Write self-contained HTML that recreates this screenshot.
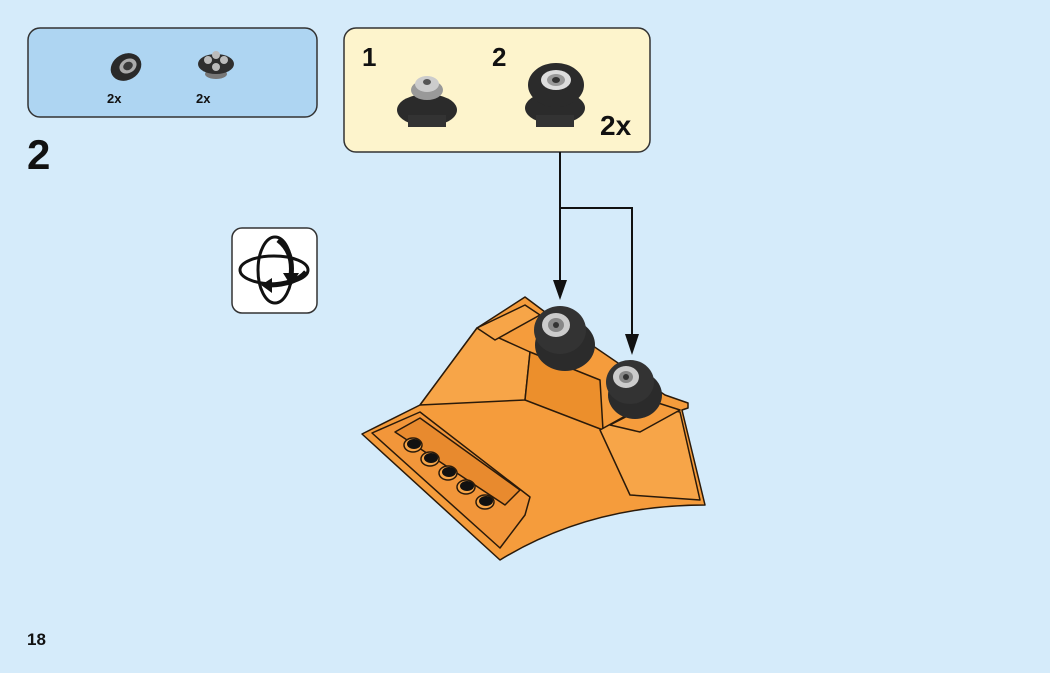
<!DOCTYPE html>
<html><head><meta charset="utf-8"><style>
html,body{margin:0;padding:0}
body{width:1050px;height:673px;background:#d5ebfa;position:relative;overflow:hidden;font-family:"Liberation Sans",sans-serif}
.t{position:absolute;font-weight:bold;color:#111}
</style></head><body>
<svg width="1050" height="673" style="position:absolute;left:0;top:0">
<rect x="28" y="28" width="289" height="89" rx="12" fill="#aed5f2" stroke="#333" stroke-width="1.5"/>
<ellipse cx="126" cy="67" rx="16" ry="13" fill="#2a2a2a" transform="rotate(-30 126 67)"/>
<ellipse cx="128" cy="66" rx="9" ry="7" fill="#aaa" transform="rotate(-30 128 66)"/>
<ellipse cx="128" cy="66" rx="5" ry="4" fill="#3a3a3a" transform="rotate(-30 128 66)"/>
<ellipse cx="216" cy="74" rx="11" ry="5" fill="#777"/>
<ellipse cx="216" cy="64" rx="18" ry="10" fill="#2f2f2f"/>
<circle cx="208" cy="60" r="4" fill="#bbb"/><circle cx="224" cy="60" r="4" fill="#bbb"/>
<circle cx="216" cy="55" r="4" fill="#bbb"/><circle cx="216" cy="67" r="4" fill="#bbb"/>
<rect x="344" y="28" width="306" height="124" rx="12" fill="#fdf4cc" stroke="#333" stroke-width="1.5"/>
<ellipse cx="427" cy="110" rx="30" ry="16" fill="#2b2b2b"/>
<rect x="408" y="115" width="38" height="12" fill="#333"/>
<ellipse cx="427" cy="90" rx="16" ry="10" fill="#999"/>
<ellipse cx="427" cy="84" rx="12" ry="8" fill="#ccc"/>
<ellipse cx="427" cy="82" rx="4" ry="3" fill="#555"/>
<ellipse cx="555" cy="108" rx="30" ry="16" fill="#2b2b2b"/>
<rect x="536" y="115" width="38" height="12" fill="#333"/>
<ellipse cx="556" cy="85" rx="28" ry="22" fill="#2b2b2b"/>
<ellipse cx="556" cy="80" rx="15" ry="10" fill="#ddd"/>
<ellipse cx="556" cy="80" rx="9" ry="6" fill="#999"/>
<ellipse cx="556" cy="80" rx="4" ry="3" fill="#333"/>
<rect x="232" y="228" width="85" height="85" rx="10" fill="#fff" stroke="#333" stroke-width="1.5"/>
<ellipse cx="274" cy="270" rx="34" ry="14" fill="none" stroke="#111" stroke-width="3"/>
<ellipse cx="275" cy="270" rx="17" ry="33" fill="none" stroke="#111" stroke-width="3"/>
<path d="M278 240 q16 12 13 36" fill="none" stroke="#111" stroke-width="5"/>
<polygon points="283,273 299,273 291,286" fill="#111"/>
<path d="M306 272 q-10 12 -36 13" fill="none" stroke="#111" stroke-width="5"/>
<polygon points="272,278 272,293 261,285" fill="#111"/>
<line x1="560" y1="152" x2="560" y2="282" stroke="#111" stroke-width="2"/>
<polygon points="553,280 567,280 560,300" fill="#111"/>
<polyline points="560,208 632,208 632,336" fill="none" stroke="#111" stroke-width="2"/>
<polygon points="625,334 639,334 632,355" fill="#111"/>
<g stroke="#2a1a0a" stroke-width="1.5" stroke-linejoin="round">
<path d="M362,434 L420,405 L477,328 L525,297 L545,312 L555,320 L665,395 L688,403 L688,408 L682,410 L705,505 Q590,505 500,560 Z" fill="#f59c3c"/>
<polygon points="420,405 477,328 530,352 525,400" fill="#f7a548"/>
<polygon points="530,352 600,380 603,430 525,400" fill="#ec8f2c"/>
<polygon points="372,433 420,412 530,497 525,515 500,548" fill="#f2963a"/>
<polygon points="395,432 420,418 520,490 505,505" fill="#e88a2e"/>
<polygon points="600,430 645,405 680,412 700,500 630,495" fill="#f7a548"/>
<polygon points="477,328 525,305 540,315 495,340" fill="#f7a548"/>
<polygon points="610,425 655,402 680,410 640,432" fill="#f59c3c"/>
</g>
<g fill="#f7a548" stroke="#2a1a0a" stroke-width="1.5">
<ellipse cx="413" cy="445" rx="9" ry="7"/><ellipse cx="430" cy="459" rx="9" ry="7"/>
<ellipse cx="448" cy="473" rx="9" ry="7"/><ellipse cx="466" cy="487" rx="9" ry="7"/>
<ellipse cx="485" cy="502" rx="9" ry="7"/>
</g>
<g fill="#111">
<ellipse cx="414" cy="444" rx="7" ry="5"/><ellipse cx="431" cy="458" rx="7" ry="5"/>
<ellipse cx="449" cy="472" rx="7" ry="5"/><ellipse cx="467" cy="486" rx="7" ry="5"/>
<ellipse cx="486" cy="501" rx="7" ry="5"/>
</g>
<ellipse cx="565" cy="345" rx="30" ry="26" fill="#2b2b2b"/>
<ellipse cx="560" cy="330" rx="26" ry="24" fill="#333"/>
<ellipse cx="556" cy="325" rx="14" ry="12" fill="#ccc"/>
<ellipse cx="556" cy="325" rx="8" ry="7" fill="#888"/>
<ellipse cx="556" cy="325" rx="3" ry="3" fill="#333"/>
<ellipse cx="635" cy="395" rx="27" ry="24" fill="#2b2b2b"/>
<ellipse cx="630" cy="382" rx="24" ry="22" fill="#333"/>
<ellipse cx="626" cy="377" rx="13" ry="11" fill="#ccc"/>
<ellipse cx="626" cy="377" rx="7" ry="6" fill="#888"/>
<ellipse cx="626" cy="377" rx="3" ry="3" fill="#333"/>
</svg>
<div class="t" style="left:107px;top:91px;font-size:13px">2x</div>
<div class="t" style="left:196px;top:91px;font-size:13px">2x</div>
<div class="t" style="left:27px;top:131px;font-size:42px">2</div>
<div class="t" style="left:362px;top:42px;font-size:26px">1</div>
<div class="t" style="left:492px;top:42px;font-size:26px">2</div>
<div class="t" style="left:600px;top:110px;font-size:28px">2x</div>
<div class="t" style="left:27px;top:630px;font-size:17px">18</div>
</body></html>
